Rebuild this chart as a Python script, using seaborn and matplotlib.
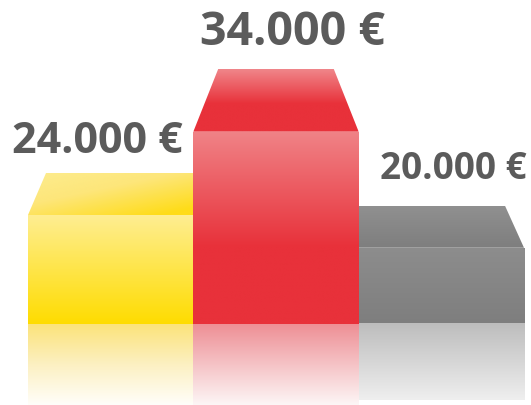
import numpy as np
import matplotlib
matplotlib.use("Agg")
import matplotlib.pyplot as plt
import seaborn as sns
from matplotlib.colors import to_rgb
from matplotlib.patches import Polygon

# ---- data ----
places = ["Platz 2", "Platz 1", "Platz 3"]
values = [24000, 34000, 20000]
labels = ["24.000 €", "34.000 €", "20.000 €"]

# ---- style ----
sns.set_theme(style="white")
plt.rcParams['font.family'] = ['Open Sans', 'DejaVu Sans']

W, H = 531, 405
fig = plt.figure(figsize=(W / 100, H / 100), dpi=100)
fig.patch.set_facecolor("white")

base_px = 324          # baseline pixel row (from top)
px_per_eur = 0.00829   # vertical scale
v0 = 10800             # value sitting on the baseline (truncated axis)
x_left_px = 28
px_per_cat = 165.33
x0 = -0.5 - x_left_px / px_per_cat
xlim = (x0, x0 + W / px_per_cat)

ax = fig.add_axes([0, (H - base_px) / H, 1, base_px / H])
axr = fig.add_axes([0, 0, 1, (H - base_px) / H])

df = {"place": places, "value": values}
for a in (ax, axr):
    sns.barplot(x=places, y=values, hue=places, legend=False, width=1.0,
                ax=a, saturation=1, edgecolor="none")
    for p in a.patches:
        p.set_facecolor("none")
        p.set_edgecolor("none")


def gradient_img(stops, n=256, diag=None):
    pos = [p for p, _ in stops]
    cols = np.array([to_rgb(c) for _, c in stops])
    if diag is None:
        t = np.linspace(0, 1, n)[:, None] * np.ones((1, 2))
    else:
        v = np.linspace(0, 1, n)[:, None]
        u = np.linspace(0, 1, n)[None, :]
        t = np.clip(diag[0] * v + diag[1] * u, 0, 1)
    img = np.stack([np.interp(t, pos, cols[:, k]) for k in range(3)], axis=-1)
    return img


def fill(a, patch, xl, xr, y_row0, y_rowN, stops, diag=None):
    img = gradient_img(stops, diag=diag)
    # origin='upper': row 0 placed at 'top' of extent
    im = a.imshow(img, extent=(xl, xr, y_rowN, y_row0), origin='upper',
                  aspect='auto', interpolation='bilinear', zorder=3)
    im.set_clip_path(patch)


front_stops = [
    [(0, '#FEEE93'), (1, '#FFDC00')],
    [(0, '#F08387'), (0.6, '#E8313A'), (1, '#E8313A')],
    [(0, '#8D8D8D'), (1, '#7E7E7E')],
]
top_stops = [
    [(0, '#FDEC8E'), (0.45, '#FDE67A'), (1, '#FFDC18')],
    [(0, '#F0868A'), (0.55, '#E8313A'), (1, '#E8313A')],
    [(0, '#909090'), (1, '#7E7E7E')],
]
top_diag = [(0.6, 0.5), None, None]
refl_stops = [
    [(0, '#FBE37A'), (0.5, '#FCF0C2'), (1, '#FFFEFA')],
    [(0, '#EE8F95'), (0.5, '#F5C3C6'), (1, '#FDF6F6')],
    [(0, '#BDBDBD'), (1, '#F2F2F2')],
]
depth_px = [42, 63, 42]
inset_px = [(18, 0), (25, 25), (0, 19)]
label_size = [31, 33.6, 26.6]
label_dx_px = [-13, 16.5, 12]
label_dy_px = [20, 24, 27]

ymax = v0 + base_px / px_per_eur
yref = v0 + (H - base_px) / px_per_eur

bars = sorted(ax.patches, key=lambda p: p.get_x())
rbars = sorted(axr.patches, key=lambda p: p.get_x())

for i, (bar, rbar) in enumerate(zip(bars, rbars)):
    xl = bar.get_x()
    xr = xl + bar.get_width()
    top = bar.get_height()
    # front face
    fill(ax, bar, xl, xr, top, v0, front_stops[i])
    # top face (perspective trapezoid)
    dy = depth_px[i] / px_per_eur
    il, ir = inset_px[i][0] / px_per_cat, inset_px[i][1] / px_per_cat
    poly = Polygon([(xl, top), (xr, top), (xr - ir, top + dy), (xl + il, top + dy)],
                   closed=True, facecolor='none', edgecolor='none')
    ax.add_patch(poly)
    fill(ax, poly, xl, xr, top + dy, top, top_stops[i], diag=top_diag[i])
    # reflection
    fill(axr, rbar, xl, xr, v0, yref, refl_stops[i])
    # label
    ax.annotate(labels[i], xy=(i, top + dy),
                xytext=(label_dx_px[i] * 0.72, label_dy_px[i] * 0.72),
                textcoords='offset points', ha='center', va='baseline',
                fontsize=label_size[i], fontweight='bold', color='#5B5B5B',
                annotation_clip=False, zorder=5)

for a in (ax, axr):
    a.set_xlim(xlim)
    a.axis('off')
ax.set_ylim(v0, ymax)
axr.set_ylim(yref, v0)

fig.savefig("out.png", dpi=100, facecolor="white")
